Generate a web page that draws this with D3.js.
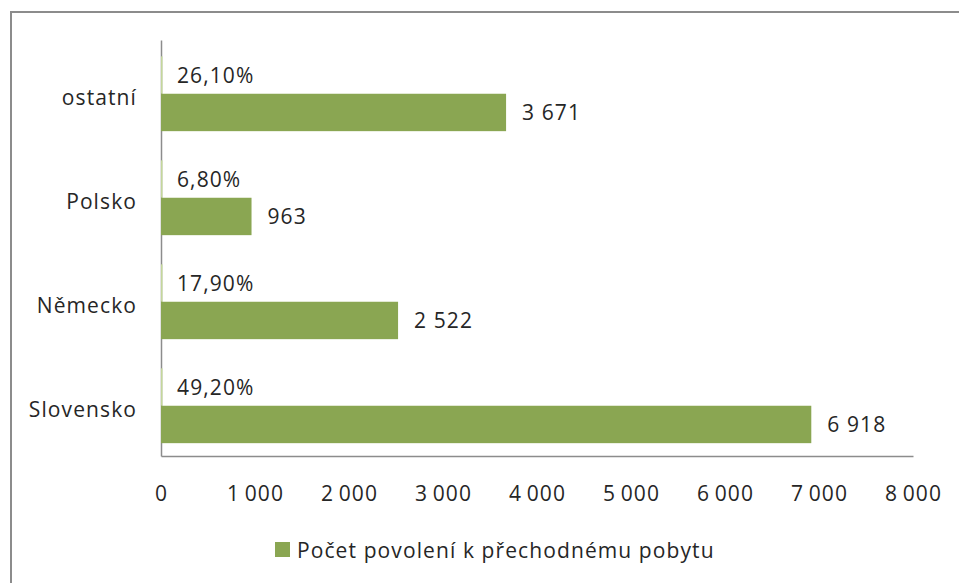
<!DOCTYPE html>
<html>
<head>
<meta charset="utf-8">
<script src="https://cdn.jsdelivr.net/npm/d3@7"></script>
<style>
  body { margin: 0; background: #fff; }
  text { font-family: "Open Sans", sans-serif; font-size: 21px; fill: #262626; letter-spacing: 1.1px; }
</style>
</head>
<body>
<div id="chart-container"></div>
<script>
// Data
const categories = ["ostatní", "Polsko", "Německo", "Slovensko"];
const permitCounts = [3671, 963, 2522, 6918];
const shares = [0.261, 0.068, 0.179, 0.492];
const xTicks = [0, 1000, 2000, 3000, 4000, 5000, 6000, 7000, 8000];
const legendLabel = "Počet povolení k přechodnému pobytu";

const svgWidth = 959;
const svgHeight = 583;
const margin = { top: 40, right: 46, bottom: 127, left: 161 };

const svg = d3.select("#chart-container")
    .append("svg")
    .attr("width", svgWidth)
    .attr("height", svgHeight);

// outer frame (only top/left visible in the picture)
svg.append("rect")
    .attr("x", 11)
    .attr("y", 12)
    .attr("width", 1200)
    .attr("height", 1200)
    .attr("fill", "none")
    .attr("stroke", "#8c8c8c")
    .attr("stroke-width", 2);

// Scales
const xScale = d3.scaleLinear()
    .domain([0, 8000])
    .range([margin.left, svgWidth - margin.right]);

const yScale = d3.scaleBand()
    .domain(categories)
    .range([margin.top, svgHeight - margin.bottom]);

const ySub = d3.scaleBand()
    .domain(["share", "count"])
    .range([0, yScale.bandwidth()])
    .paddingOuter(0.39)
    .align(0.56);

const cz = d3.formatLocale({ decimal: ",", thousands: " ", grouping: [3], currency: ["", ""], percent: "%" });
const fmtTick = d3.formatLocale({ decimal: ",", thousands: "\u2009", grouping: [3], currency: ["", ""] }).format(",d");
const fmtCount = cz.format(",d");
const fmtShare = cz.format(".2%");

// Axes (no tick marks, like Excel)
const xAxis = svg.append("g")
    .attr("transform", `translate(0, ${svgHeight - margin.bottom})`)
    .call(d3.axisBottom(xScale).tickValues(xTicks).tickSize(0).tickPadding(30).tickFormat(fmtTick));
xAxis.select(".domain").attr("stroke", "#8c8c8c").attr("stroke-width", 1.5);
xAxis.selectAll("text").attr("font-size", null).attr("font-family", null).attr("fill", null);

const yAxis = svg.append("g")
    .attr("transform", `translate(${margin.left}, 0)`)
    .call(d3.axisLeft(yScale).tickSize(0).tickPadding(24));
yAxis.select(".domain").attr("stroke", "#8c8c8c").attr("stroke-width", 1.5);
yAxis.selectAll("text").attr("font-size", null).attr("font-family", null).attr("fill", null).attr("dy", "0.6em");

// share bars (fractions, so on this scale they are only a hairline)
const shareBars = categories.map((c, i) => ({ cat: c, value: shares[i] }));
svg.selectAll(".share-bar")
    .data(shareBars)
    .enter().append("rect")
    .attr("class", "share-bar")
    .attr("x", xScale(0))
    .attr("y", d => yScale(d.cat) + ySub("share"))
    .attr("width", d => Math.max(1.5, xScale(d.value) - xScale(0)))
    .attr("height", ySub.bandwidth())
    .attr("fill", "#c4d79b");

svg.selectAll(".share-label")
    .data(shareBars)
    .enter().append("text")
    .attr("class", "share-label")
    .attr("x", d => xScale(d.value) + 16)
    .attr("y", d => yScale(d.cat) + ySub("share") + ySub.bandwidth() / 2)
    .attr("dy", "0.38em")
    .text(d => fmtShare(d.value));

// count bars
const countBars = categories.map((c, i) => ({ cat: c, value: permitCounts[i] }));
svg.selectAll(".count-bar")
    .data(countBars)
    .enter().append("rect")
    .attr("class", "count-bar")
    .attr("x", xScale(0))
    .attr("y", d => yScale(d.cat) + ySub("count"))
    .attr("width", d => xScale(d.value) - xScale(0))
    .attr("height", ySub.bandwidth())
    .attr("fill", "#8aa652");

svg.selectAll(".count-label")
    .data(countBars)
    .enter().append("text")
    .attr("class", "count-label")
    .attr("x", d => xScale(d.value) + 16)
    .attr("y", d => yScale(d.cat) + ySub("count") + ySub.bandwidth() / 2)
    .attr("dy", "0.38em")
    .text(d => fmtCount(d.value));

// Legend
const legend = svg.append("g").attr("transform", "translate(275, 542)");
legend.append("rect")
    .attr("width", 15)
    .attr("height", 15)
    .attr("fill", "#8aa652");
legend.append("text")
    .attr("x", 22)
    .attr("y", 8)
    .attr("dy", "0.38em")
    .text(legendLabel);
</script>
</body>
</html>
